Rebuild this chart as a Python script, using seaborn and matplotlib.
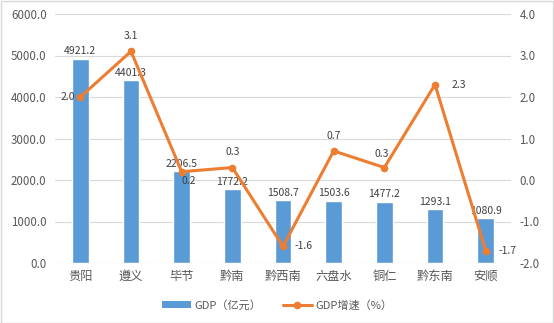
import matplotlib
matplotlib.use("Agg")
import matplotlib.pyplot as plt
import seaborn as sns
import pandas as pd
import numpy as np
from matplotlib.lines import Line2D
from matplotlib.patches import Patch

cities = ["贵阳", "遵义", "毕节", "黔南", "黔西南", "六盘水", "铜仁", "黔东南", "安顺"]
gdp = [4921.2, 4401.3, 2206.5, 1772.2, 1508.7, 1503.6, 1477.2, 1293.1, 1080.9]
growth = [2.0, 3.1, 0.2, 0.3, -1.6, 0.7, 0.3, 2.3, -1.7]
left_ticks = [0, 1000, 2000, 3000, 4000, 5000, 6000]
right_ticks = [-2, -1, 0, 1, 2, 3, 4]

sns.set_theme(style="white")
plt.rcParams['font.family'] = ['Noto Sans CJK SC', 'DejaVu Sans']

BLUE = "#5B9BD5"
ORANGE = "#ED7D31"
TXT = "#595959"
GRID = "#D9D9D9"

fig = plt.figure(figsize=(5.54, 3.23), dpi=100)
ax = fig.add_axes([55/554, 1-263/323, (511-55)/554, (263-14)/323])

df = pd.DataFrame({"city": cities, "gdp": gdp, "growth": growth})
sns.barplot(data=df, x="city", y="gdp", color=BLUE, width=0.33, ax=ax,
            saturation=1, order=cities)
ax.set_ylim(0, 6000)
ax.set_yticks(left_ticks)
ax.set_yticklabels([f"{v:.1f}" for v in left_ticks])
ax.set_xlim(-0.5, len(cities) - 0.5)
ax.set_xlabel("")
ax.set_ylabel("")
for s in ax.spines.values():
    s.set_visible(False)
ax.grid(axis="y", color=GRID, linewidth=0.8)
ax.set_axisbelow(True)
ax.tick_params(axis="both", length=0, labelsize=8.3, colors=TXT, pad=6)
ax.tick_params(axis="x", labelsize=8.8, pad=5)

for i, v in enumerate(gdp):
    ax.text(i, v + 60, f"{v:.1f}", ha="center", va="bottom", fontsize=7.5, color="#404040")

ax2 = ax.twinx()
ax2.set_position(ax.get_position())
sns.lineplot(x=np.arange(len(cities)), y=growth, ax=ax2, color=ORANGE, linewidth=2.2,
             marker="o", markersize=5.5, markeredgewidth=0)
ax2.set_ylim(-2, 4)
ax2.set_yticks(right_ticks)
ax2.set_yticklabels([f"{v:.1f}" for v in right_ticks])
for s in ax2.spines.values():
    s.set_visible(False)
ax2.tick_params(axis="y", length=0, labelsize=8.3, colors=TXT, pad=6)
ax2.set_ylabel("")

offsets = [(-9, 0), (0, 11), (5, -7), (0, 11), (15, 0), (0, 11),
           (-2, 10), (17, 0), (16, 0)]
for i, v in enumerate(growth):
    dx, dy = offsets[i]
    ax2.annotate(f"{v:.1f}", (i, v), xytext=(dx, dy), textcoords="offset points",
                 ha="center", va="center", fontsize=7.5, color="#404040")

handles = [Patch(facecolor=BLUE, edgecolor="none"),
           Line2D([0], [0], color=ORANGE, linewidth=2.2, marker="o", markersize=5.5, markeredgewidth=0)]
fig.legend(handles, ["GDP（亿元）", "GDP增速（%）"], loc="center", bbox_to_anchor=(0.5, 1-305/323),
           ncol=2, frameon=False, fontsize=8, labelcolor=TXT, handlelength=2.6, handleheight=0.5,
           columnspacing=2.0, handletextpad=0.3)

fig.patches.append(matplotlib.patches.Rectangle((0.5/554, 0.5/323), 1-1.5/554, 1-1.5/323,
                                                transform=fig.transFigure, fill=False,
                                                edgecolor=GRID, linewidth=1))
fig.savefig("out.png", dpi=100)
